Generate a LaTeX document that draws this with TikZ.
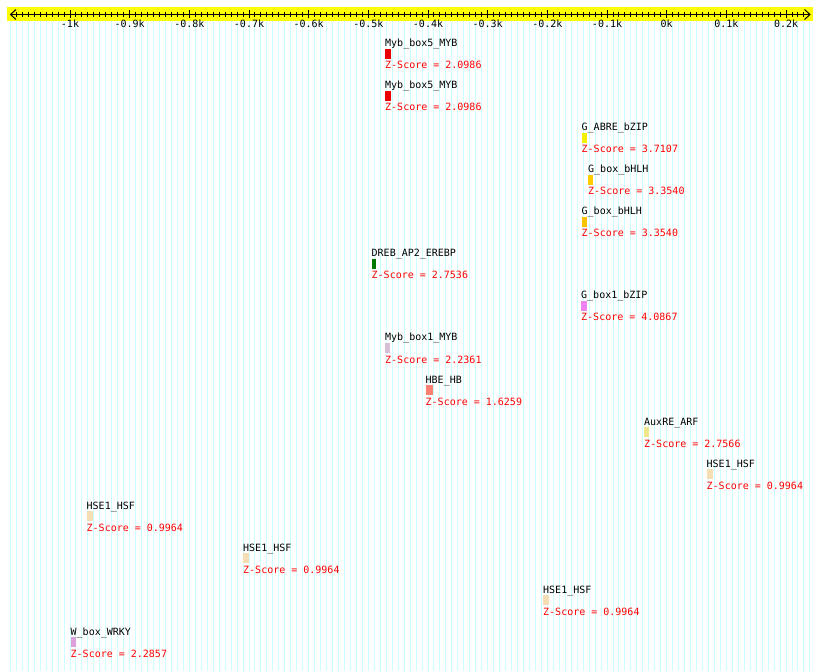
\documentclass[tikz,border=0pt]{standalone}
\usepackage{fontspec}
\newfontfamily\mono{DejaVu Sans Mono}
\definecolor{gridc}{RGB}{204,255,255}
\definecolor{rulery}{RGB}{255,255,0}
\definecolor{zred}{RGB}{255,0,0}
\definecolor{cred}{RGB}{235,0,0}
\definecolor{cyellow}{RGB}{245,240,0}
\definecolor{cgold}{RGB}{255,204,0}
\definecolor{cgold2}{RGB}{250,195,0}
\definecolor{cgreen}{RGB}{0,120,0}
\definecolor{cviolet}{RGB}{238,130,238}
\definecolor{cthistle}{RGB}{216,191,216}
\definecolor{csalmon}{RGB}{250,128,114}
\definecolor{ckhaki}{RGB}{240,230,140}
\definecolor{cwheat}{RGB}{245,222,179}
\definecolor{cplum}{RGB}{221,160,221}
\newcommand\tfsite[7]{%
  \pgfmathsetmacro\yb{47+42*#2}
  \node[lbl] (#1l) at (#3,\yb) {#6};
  \node[tfbox, fill=#5, minimum width=#4pt] (#1b) at (#3,\yb+2) {};
  \node[zs] (#1z) at (#3,\yb+22) {Z-Score = #7};
}
\begin{document}
\begin{tikzpicture}[x=1pt,y=-1pt,
  lbl/.style={inner sep=0pt, anchor=base west, font=\mono\fontsize{10}{12}\selectfont},
  zs/.style={lbl, text=zred},
  ticklbl/.style={inner sep=0pt, anchor=base, font=\mono\fontsize{10}{12}\selectfont},
  tfbox/.style={inner sep=0pt, anchor=north west, minimum height=10pt, draw=none},
  gridline/.style={draw=gridc, line width=1pt},
  tickline/.style={draw=black, line width=1pt}]
\useasboundingbox (0,0) rectangle (820,671);
\fill[white] (0,0) rectangle (820,671);
% background grid
\foreach \b in {-1100,-1090,...,240} {
  \pgfmathsetmacro\xx{666.7+0.5967*\b}
  \draw[gridline] (\xx,21) -- (\xx,671);
}
% ruler
\fill[rulery] (7,7) rectangle (813,21);
\draw[tickline] (10.5,14.5) -- (810,14.5);
\draw[tickline] (16,9.5) -- (10.5,14.5) -- (16,19.5);
\draw[tickline] (804.5,9.5) -- (810,14.5) -- (804.5,19.5);
\foreach \b in {-1090,-1080,...,230} {
  \pgfmathsetmacro\xx{666.7+0.5967*\b}
  \draw[tickline] (\xx,12) -- (\xx,17);
}
\foreach \b/\t [count=\i] in {-1000/-1k,-900/-0.9k,-800/-0.8k,-700/-0.7k,-600/-0.6k,-500/-0.5k,-400/-0.4k,-300/-0.3k,-200/-0.2k,-100/-0.1k,0/0k,100/0.1k,200/0.2k} {
  \pgfmathsetmacro\xx{666.7+0.5967*\b}
  \draw[tickline] (\xx,10.5) -- (\xx,18.5);
  \node[ticklbl] (tk\i) at (\xx,28) {\t};
}
% sites
\tfsite{a}{0}{385}{6}{cred}{Myb\_box5\_MYB}{2.0986}
\tfsite{b}{1}{385}{6}{cred}{Myb\_box5\_MYB}{2.0986}
\tfsite{c}{2}{581.5}{5}{cyellow}{G\_ABRE\_bZIP}{3.7107}
\tfsite{d}{3}{588}{5}{cgold}{G\_box\_bHLH}{3.3540}
\tfsite{e}{4}{581.5}{5}{cgold2}{G\_box\_bHLH}{3.3540}
\tfsite{f}{5}{371.5}{4}{cgreen}{DREB\_AP2\_EREBP}{2.7536}
\tfsite{g}{6}{581}{6}{cviolet}{G\_box1\_bZIP}{4.0867}
\tfsite{h}{7}{385}{5}{cthistle}{Myb\_box1\_MYB}{2.2361}
\tfsite{i}{8}{425.5}{7}{csalmon}{HBE\_HB}{1.6259}
\tfsite{j}{9}{644}{4.5}{ckhaki}{AuxRE\_ARF}{2.7566}
\tfsite{k}{10}{706.5}{6}{cwheat}{HSE1\_HSF}{0.9964}
\tfsite{l}{11}{86.5}{6}{cwheat}{HSE1\_HSF}{0.9964}
\tfsite{m}{12}{243}{6}{cwheat}{HSE1\_HSF}{0.9964}
\tfsite{n}{13}{543}{6}{cwheat}{HSE1\_HSF}{0.9964}
\tfsite{o}{14}{70.5}{5.5}{cplum}{W\_box\_WRKY}{2.2857}
\end{tikzpicture}
\end{document}
